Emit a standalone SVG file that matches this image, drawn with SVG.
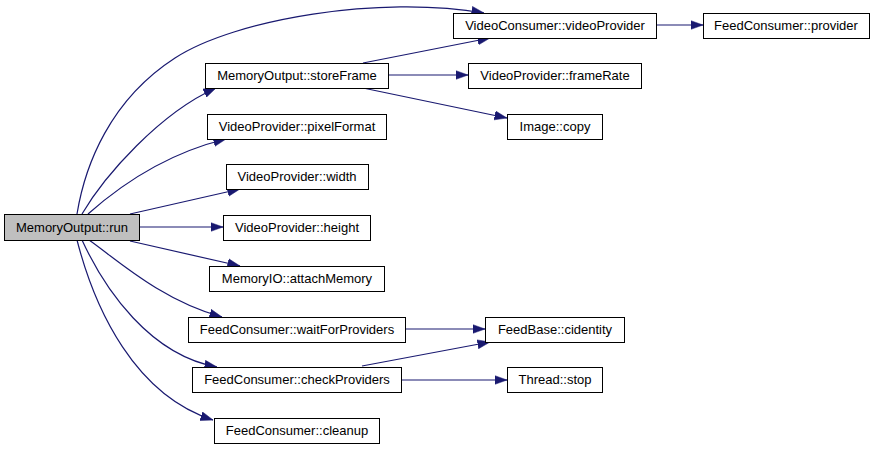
<svg xmlns="http://www.w3.org/2000/svg" width="875" height="449" viewBox="0 0 875 449">
<style>
.n rect{fill:#ffffff;stroke:#000000;stroke-width:1}
.n text{font-family:"Liberation Sans",Arial,sans-serif;font-size:13px;fill:#000000;text-anchor:middle}
#run rect{fill:#bfbfbf}
.e path{fill:none;stroke:#191970;stroke-width:1.2;marker-end:url(#ah)}
</style>
<defs>
<marker id="ah" markerUnits="userSpaceOnUse" markerWidth="13" markerHeight="10" refX="12.5" refY="4.5" orient="auto" viewBox="0 0 13 9">
<path d="M0,0 L12.5,4.5 L0,9 Z" fill="#191970" stroke="#191970" stroke-width="0.5"/>
</marker>
</defs>
<rect width="875" height="449" fill="#ffffff"/>
<g id="edges" class="e">
<path d="M77,214 C85,165 110,100 175,58 C235,19 380,-5 484,13"/>
<path d="M82,214 C105,175 160,113 216,88"/>
<path d="M88,214 C115,190 160,155 226,139"/>
<path d="M130,214 L240,189"/>
<path d="M139,227 L223,227"/>
<path d="M130,241 L240,266"/>
<path d="M89,240 C115,258 160,300 222,317"/>
<path d="M82,240 C105,290 150,355 217,367"/>
<path d="M77,240 C95,310 135,395 213,420"/>
<path d="M363,63 L490,38"/>
<path d="M388,75 L468,75"/>
<path d="M363,88 L507,118"/>
<path d="M656,25 L703,25"/>
<path d="M405,329 L485,329"/>
<path d="M362,366 L490,342"/>
<path d="M401,380 L507,380"/>
</g>
<g id="run" class="n"><rect x="4.5" y="214.5" width="135" height="26"/><text x="72" y="232">MemoryOutput::run</text></g>
<g id="storeFrame" class="n"><rect x="205.5" y="63.5" width="183" height="25"/><text x="297" y="80">MemoryOutput::storeFrame</text></g>
<g id="pixelFormat" class="n"><rect x="207.5" y="114.5" width="179" height="25"/><text x="297" y="131">VideoProvider::pixelFormat</text></g>
<g id="width" class="n"><rect x="226.5" y="164.5" width="142" height="25"/><text x="297" y="181">VideoProvider::width</text></g>
<g id="height" class="n"><rect x="223.5" y="215.5" width="147" height="25"/><text x="297" y="232">VideoProvider::height</text></g>
<g id="attachMemory" class="n"><rect x="209.5" y="266.5" width="175" height="25"/><text x="297" y="283">MemoryIO::attachMemory</text></g>
<g id="waitForProviders" class="n"><rect x="188.5" y="317.5" width="217" height="25"/><text x="297" y="334">FeedConsumer::waitForProviders</text></g>
<g id="checkProviders" class="n"><rect x="192.5" y="367.5" width="209" height="25"/><text x="297" y="384">FeedConsumer::checkProviders</text></g>
<g id="cleanup" class="n"><rect x="214.5" y="418.5" width="165" height="25"/><text x="297" y="435">FeedConsumer::cleanup</text></g>
<g id="videoProvider" class="n"><rect x="453.5" y="13.5" width="203" height="25"/><text x="555" y="30">VideoConsumer::videoProvider</text></g>
<g id="provider" class="n"><rect x="703.5" y="13.5" width="166" height="25"/><text x="786" y="30">FeedConsumer::provider</text></g>
<g id="frameRate" class="n"><rect x="468.5" y="63.5" width="173" height="25"/><text x="555" y="80">VideoProvider::frameRate</text></g>
<g id="copy" class="n"><rect x="507.5" y="114.5" width="95" height="25"/><text x="555" y="131">Image::copy</text></g>
<g id="cidentity" class="n"><rect x="485.5" y="317.5" width="139" height="25"/><text x="555" y="334">FeedBase::cidentity</text></g>
<g id="stop" class="n"><rect x="507.5" y="367.5" width="95" height="25"/><text x="555" y="384">Thread::stop</text></g>
</svg>
